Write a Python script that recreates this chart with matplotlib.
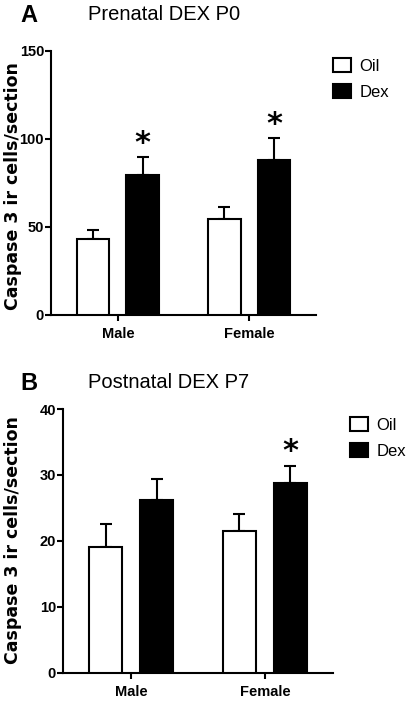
import matplotlib
matplotlib.use('Agg')
import matplotlib.pyplot as plt
from matplotlib.patches import Patch

groups = ['Male', 'Female']
series = ['Oil', 'Dex']

# panel A: prenatal DEX, P0
p0_oil = [43.2, 54.5]
p0_oil_sem = [5.1, 6.9]
p0_dex = [79.5, 88.0]
p0_dex_sem = [10.3, 12.6]
p0_star = [False, False, True, True]  # oil male, oil female, dex male, dex female

# panel B: postnatal DEX, P7
p7_oil = [19.1, 21.5]
p7_oil_sem = [3.5, 2.6]
p7_dex = [26.2, 28.8]
p7_dex_sem = [3.2, 2.6]
p7_star = [False, False, False, True]

narrow = ['Liberation Sans Narrow', 'Liberation Sans', 'DejaVu Sans']
regular = ['Liberation Sans', 'DejaVu Sans']

W, H = 410, 705
fig = plt.figure(figsize=(W / 100, H / 100), dpi=100)


def panel(rect, oil, oil_sem, dex, dex_sem, stars, ymax, step, leg_xy, ylab_y):
    ax = fig.add_axes(rect)
    x = [0, 1]
    w = 0.25
    off = 0.19
    lw = 1.5
    xo = [i - off for i in x]
    xd = [i + off for i in x]
    ax.bar(xo, oil, w, color='white', edgecolor='black', linewidth=lw, zorder=3)
    ax.bar(xd, dex, w, color='black', edgecolor='black', linewidth=lw, zorder=3)
    ax.errorbar(xo, oil, yerr=[[0, 0], oil_sem], fmt='none', ecolor='black',
                elinewidth=lw, capsize=4.5, capthick=lw, zorder=2)
    ax.errorbar(xd, dex, yerr=[[0, 0], dex_sem], fmt='none', ecolor='black',
                elinewidth=lw, capsize=4.5, capthick=lw, zorder=2)

    xs = xo + xd
    tops = [v + e for v, e in zip(oil + dex, oil_sem + dex_sem)]
    for xx, t, s in zip(xs, tops, stars):
        if s:
            ax.annotate('*', (xx, t), xytext=(0, 10), textcoords='offset points',
                        ha='center', va='center', fontsize=22, fontweight='bold')

    ax.set_xlim(-0.51, 1.51)
    ax.set_ylim(0, ymax)
    ax.set_yticks(range(0, ymax + 1, step))
    ax.set_xticks(x)
    ax.set_xticklabels(groups)
    for sp in ['top', 'right']:
        ax.spines[sp].set_visible(False)
    for sp in ['left', 'bottom']:
        ax.spines[sp].set_linewidth(1.5)
    ax.tick_params(axis='both', direction='out', width=1.5, length=4, pad=1)
    for lab in ax.get_xticklabels() + ax.get_yticklabels():
        lab.set_fontfamily(narrow)
        lab.set_fontweight('bold')
        lab.set_fontsize(10.5)
    ax.tick_params(axis='x', pad=5)

    # y label placed in figure pixels so it stays on the canvas
    fig.text(13 / W, 1 - ylab_y / H, 'Caspase 3 ir cells/section', family='DejaVu Sans',
             fontweight='bold', fontsize=12.5, rotation=90, ha='center', va='center')

    handles = [Patch(facecolor='white', edgecolor='black', linewidth=1.5),
               Patch(facecolor='black', edgecolor='black', linewidth=1.5)]
    ax.legend(handles, series, loc='upper left',
              bbox_to_anchor=(leg_xy[0] / W, 1 - leg_xy[1] / H),
              bbox_transform=fig.transFigure, borderpad=0, borderaxespad=0,
              frameon=False, handlelength=1.1, handleheight=0.95,
              handletextpad=0.5, labelspacing=0.6,
              prop={'family': narrow, 'size': 12})
    return ax


axA = panel([51 / W, 1 - 315 / H, 265 / W, 264 / H], p0_oil, p0_oil_sem, p0_dex, p0_dex_sem,
            p0_star, 150, 50, (333, 58), 186)
axB = panel([63 / W, 1 - 673 / H, 270 / W, 264 / H], p7_oil, p7_oil_sem, p7_dex, p7_dex_sem,
            p7_star, 40, 10, (350, 417), 540)

fig.text(20 / W, 1 - 15 / H, 'A', family=regular, fontweight='bold', fontsize=17, va='center')
fig.text(88 / W, 1 - 15 / H, 'Prenatal DEX P0', family=regular, fontsize=14.5, va='center')
fig.text(20 / W, 1 - 383 / H, 'B', family=regular, fontweight='bold', fontsize=17, va='center')
fig.text(88 / W, 1 - 383 / H, 'Postnatal DEX P7', family=regular, fontsize=14.5, va='center')

fig.savefig('out.png', dpi=100)
